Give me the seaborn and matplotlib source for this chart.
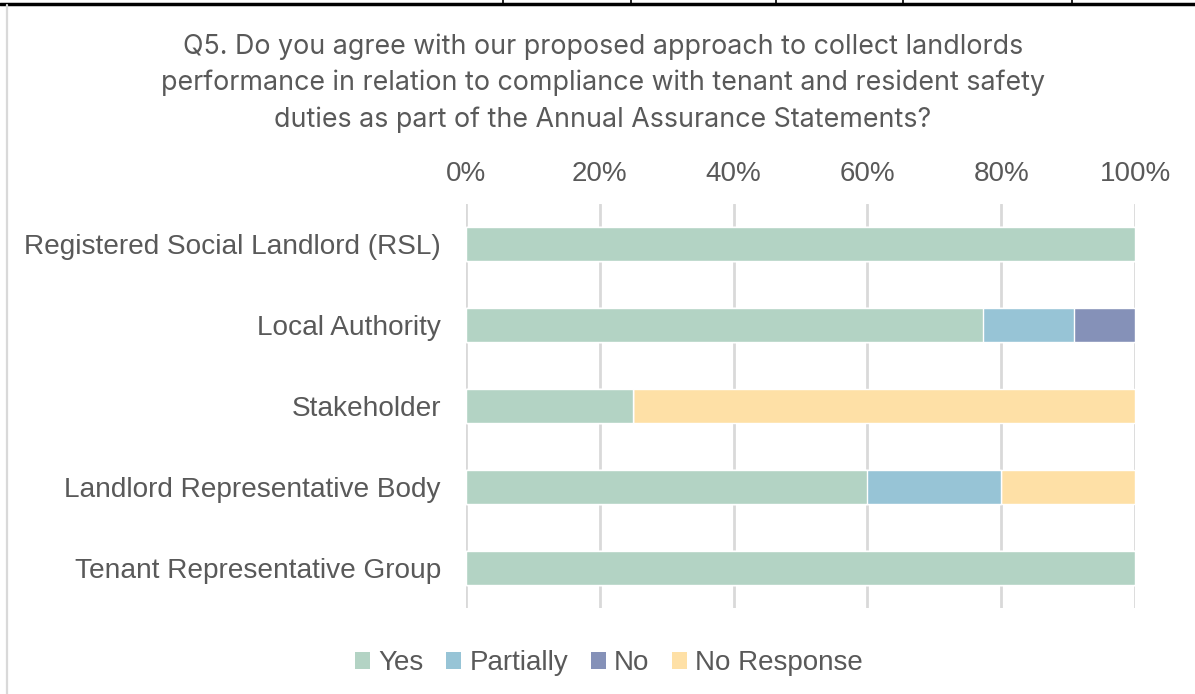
import matplotlib
matplotlib.use("Agg")
import matplotlib.pyplot as plt
from matplotlib.lines import Line2D
from matplotlib.patches import Patch
import numpy as np
import pandas as pd
import seaborn as sns

# Response shares (%) per respondent group
groups = [
    "Registered Social Landlord (RSL)",
    "Local Authority",
    "Stakeholder",
    "Landlord Representative Body",
    "Tenant Representative Group",
]
series = ["Yes", "Partially", "No", "No Response"]
yes = [100.0, 77.27, 25.0, 60.0, 100.0]
partially = [0.0, 13.64, 0.0, 20.0, 0.0]
no = [0.0, 9.09, 0.0, 0.0, 0.0]
no_response = [0.0, 0.0, 75.0, 20.0, 0.0]
tick_labels = ["0%", "20%", "40%", "60%", "80%", "100%"]

colors = {
    "Yes": "#b3d3c4",
    "Partially": "#97c4d6",
    "No": "#8591b8",
    "No Response": "#fee0a6",
}
TEXT = "#595959"
GRID = "#d9d9d9"

df = pd.DataFrame({"group": groups, "Yes": yes, "Partially": partially,
                   "No": no, "No Response": no_response})
cum = df[series].cumsum(axis=1)

sns.set_theme(style="white")
plt.rcParams["font.family"] = ["Liberation Sans", "DejaVu Sans"]

fig = plt.figure(figsize=(11.95, 6.94), dpi=100)
ax = fig.add_axes([466 / 1195, 1 - 608 / 694, (1135 - 466) / 1195, (608 - 204) / 694])

# Stacked bars: draw cumulative totals from the outermost segment inwards
for s in reversed(series):
    sns.barplot(x=cum[s], y=df["group"], orient="h", color=colors[s],
                width=0.42, ax=ax, saturation=1, zorder=3)

ax.set_xlim(0, 100)
ax.set_ylim(4.5, -0.5)
ax.set_xticks(np.arange(0, 101, 20))
ax.set_xticklabels(tick_labels)
ax.xaxis.tick_top()
ax.tick_params(axis="x", length=0, pad=12.5, labelsize=20, labelcolor=TEXT)
ax.tick_params(axis="y", length=0, pad=18, labelsize=20.2, labelcolor=TEXT)
ax.set_xlabel("")
ax.set_ylabel("")
ax.grid(axis="x", color=GRID, linewidth=2, zorder=0)
ax.grid(axis="y", visible=False)
for sp in ax.spines.values():
    sp.set_visible(False)

fig.text(603 / 1195, 1 - 83 / 694,
         "Q5. Do you agree with our proposed approach to collect landlords\n"
         "performance in relation to compliance with tenant and resident safety\n"
         "duties as part of the Annual Assurance Statements?",
         ha="center", va="center", fontsize=19.3, color=TEXT,
         family=["Inter", "DejaVu Sans"], linespacing=1.5)

# Frame lines around the chart
fig.add_artist(Line2D([0, 1], [1 - 4 / 694, 1 - 4 / 694], color="black", linewidth=2.5))
for xv in [503, 631, 776, 903, 1072]:
    fig.add_artist(Line2D([xv / 1195, xv / 1195], [1 - 4 / 694, 1], color="black", linewidth=1.2))
fig.add_artist(Line2D([7 / 1195, 7 / 1195], [0, 1 - 5 / 694], color=GRID, linewidth=1.6))

handles = [Patch(facecolor=colors[s], edgecolor="none") for s in series]
fig.legend(handles, series, loc="center", bbox_to_anchor=(609 / 1195, 1 - 663 / 694),
           ncol=4, frameon=False, fontsize=20, labelcolor=TEXT,
           handlelength=0.55, handleheight=0.55, handletextpad=0.3, columnspacing=0.8)

fig.savefig("out.png", dpi=100, facecolor="white")
